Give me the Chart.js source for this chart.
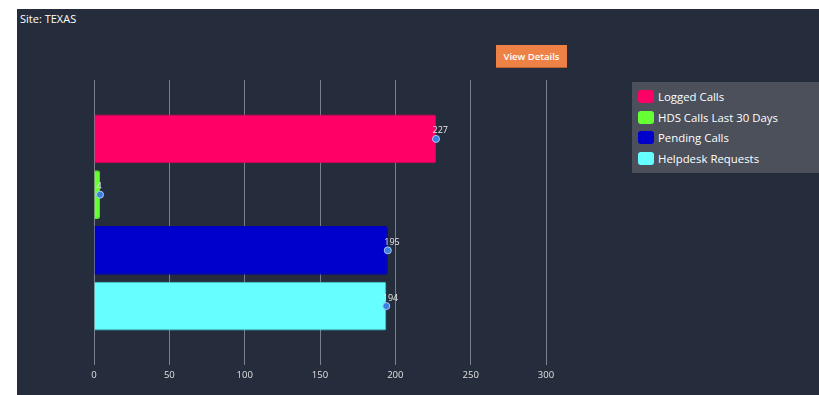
<!DOCTYPE html>
<html>
<head>
<meta charset="utf-8">
<script src="https://cdn.jsdelivr.net/npm/chart.js@4.4.1/dist/chart.umd.min.js"></script>
<style>
  html, body { margin: 0; padding: 0; background: #ffffff; width: 819px; height: 395px; overflow: hidden; }
  #panel { position: absolute; left: 17px; top: 9px; width: 802px; height: 386px; background: #252d3c; font-family: "Open Sans", "Noto Sans", sans-serif; }
  #title { position: absolute; left: 3px; top: 2px; color: #ffffff; font-size: 11px; }
  #btn { position: absolute; left: 479px; top: 36px; width: 71px; height: 23px; background: #ee8146; color: #fff; font-size: 9.5px; font-weight: 600; text-align: center; line-height: 23px; border-bottom: 1px solid #b85f30; box-sizing: border-box; }
  #chartWrap { position: absolute; left: 0; top: 0; width: 802px; height: 386px; }
  #legend { position: absolute; left: 615px; top: 73px; width: 187px; height: 91px; background: #4b505b; box-sizing: border-box; padding-top: 4px; }
  .li { height: 20.7px; display: flex; align-items: center; color: #ffffff; font-size: 11.4px; padding-left: 6px; }
  .sw { width: 16px; height: 13px; border-radius: 3px; margin-right: 4px; }
</style>
</head>
<body>
<div id="panel">
  <div id="title">Site: TEXAS</div>
  <div id="btn">View Details</div>
  <div id="chartWrap"><canvas id="c" width="802" height="386"></canvas></div>
  <div id="legend"></div>
</div>
<script>
const seriesNames = ["Logged Calls", "HDS Calls Last 30 Days", "Pending Calls", "Helpdesk Requests"];
const seriesValues = [227, 4, 195, 194];
const seriesColors = ["#ff0066", "#66ff33", "#0000cc", "#66ffff"];
const seriesBorders = ["#e0005a", "#55dd2a", "#0000b0", "#3fcfcf"];
const categories = [""];
const xTicks = [0, 50, 100, 150, 200, 250, 300];

// HTML legend
const leg = document.getElementById('legend');
seriesNames.forEach((n, i) => {
  const d = document.createElement('div');
  d.className = 'li';
  d.innerHTML = '<span class="sw" style="background:' + seriesColors[i] + '"></span><span>' + n + '</span>';
  leg.appendChild(d);
});

const pointLabels = {
  id: 'pointLabels',
  afterDatasetsDraw(chart) {
    const ctx = chart.ctx;
    ctx.save();
    chart.data.datasets.forEach((ds, i) => {
      const meta = chart.getDatasetMeta(i);
      meta.data.forEach((el, j) => {
        const x = el.x, y = el.y;
        ctx.font = '9px "Open Sans", sans-serif';
        ctx.fillStyle = '#e8e8e8';
        ctx.textAlign = 'left';
        ctx.textBaseline = 'middle';
        ctx.fillText(String(ds.data[j]), x - 3.5, y - 8);
        ctx.beginPath();
        ctx.arc(x, y, 3.5, 0, Math.PI * 2);
        ctx.fillStyle = '#3b7fe0';
        ctx.fill();
        ctx.lineWidth = 1;
        ctx.strokeStyle = '#a9c8f5';
        ctx.stroke();
      });
    });
    ctx.restore();
  }
};

new Chart(document.getElementById('c'), {
  type: 'bar',
  data: {
    labels: categories,
    datasets: seriesNames.map((n, i) => ({
      label: n,
      data: [seriesValues[i]],
      backgroundColor: seriesColors[i],
      borderColor: seriesBorders[i],
      borderWidth: 1,
      borderSkipped: 'start',
      borderRadius: 2,
      categoryPercentage: 0.782,
      barPercentage: 0.875
    }))
  },
  options: {
    indexAxis: 'y',
    responsive: false,
    animation: false,
    layout: { padding: { left: 77, top: 71, right: 273, bottom: 10 } },
    plugins: { legend: { display: false }, tooltip: { enabled: false } },
    scales: {
      y: { display: false },
      x: {
        min: 0, max: 300,
        afterBuildTicks: (s) => { s.ticks = xTicks.map(v => ({ value: v })); },
        afterFit: (s) => { s.height = 20; },
        border: { display: false },
        grid: { color: '#7b818c', lineWidth: 1, drawTicks: false },
        ticks: { color: '#e0e0e0', font: { size: 9.5, family: '"Open Sans", sans-serif' }, padding: 5 }
      }
    }
  },
  plugins: [pointLabels]
});
</script>
</body>
</html>
